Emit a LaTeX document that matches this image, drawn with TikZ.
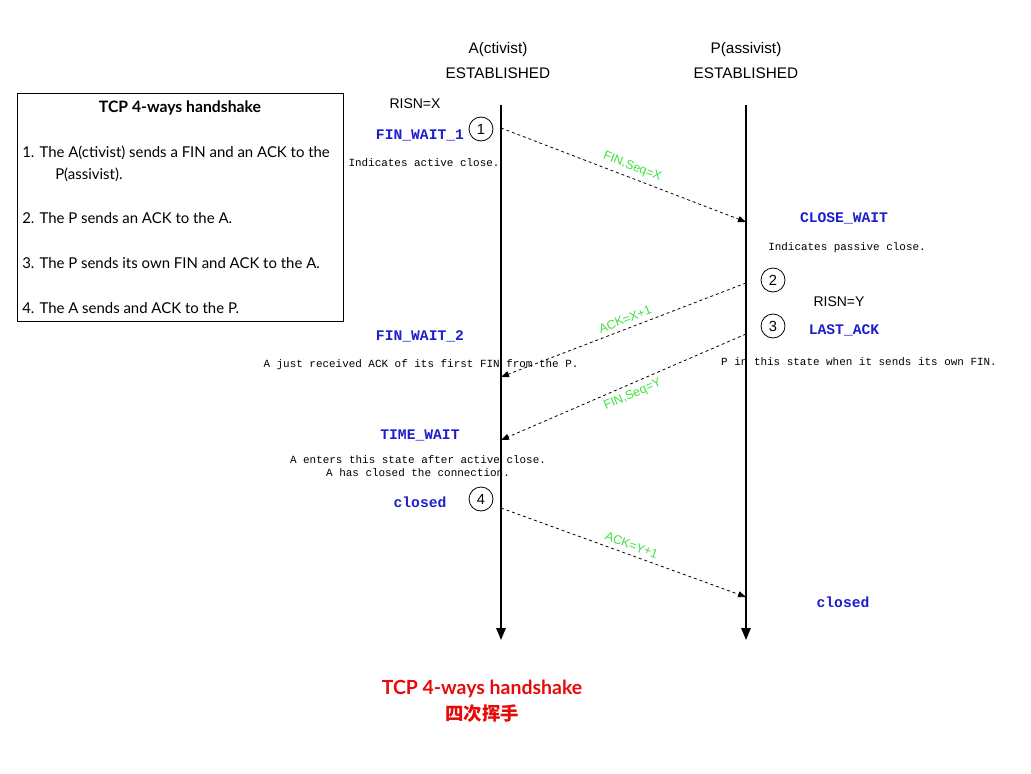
\documentclass[tikz,border=0pt]{standalone}
\usepackage{fontspec}
\setmainfont{Lato}
\newfontfamily\hel{Liberation Sans}
\newfontfamily\mono{Liberation Mono}
\newfontfamily\cjk{Noto Sans CJK SC}
\usetikzlibrary{arrows.meta}
\definecolor{stblue}{RGB}{30,30,205}
\definecolor{msggreen}{RGB}{60,225,60}
\definecolor{ttred}{RGB}{230,10,10}
\tikzset{
  hdr/.style={font=\hel\fontsize{11.5}{13}\selectfont, inner sep=0pt},
  risn/.style={font=\hel\fontsize{10.5}{12}\selectfont, inner sep=0pt},
  state/.style={font=\mono\bfseries\fontsize{11}{12}\selectfont, text=stblue, inner sep=0pt},
  note/.style={font=\mono\fontsize{8.2}{9.6}\selectfont, inner sep=0pt, align=center},
  stepnum/.style={circle, draw, line width=0.6pt, minimum size=18pt, inner sep=0pt, font=\hel\fontsize{11}{12}\selectfont},
  lifeline/.style={line width=1.5pt, -{Triangle[length=9pt,width=7pt]}},
  msg/.style={dash pattern=on 2.2pt off 2.2pt, line width=0.6pt, -{Triangle[length=6pt,width=4.5pt]}},
  msglabel/.style={font=\hel\fontsize{9.3}{10}\selectfont, text=msggreen, sloped, inner sep=3.5pt},
  boxtext/.style={font=\fontsize{11.2}{13}\selectfont, inner sep=0pt, anchor=west},
}
\begin{document}
\begin{tikzpicture}[x=0.75pt,y=-0.75pt]
\useasboundingbox (0,0) rectangle (1031,774);
% headers
\node[hdr] (hA1) at (498,50) {A(ctivist)};
\node[hdr] (hA2) at (498,73) {ESTABLISHED};
\node[hdr] (hP1) at (746,50) {P(assivist)};
\node[hdr] (hP2) at (746,73) {ESTABLISHED};
% lifelines
\coordinate (Atop) at (501,105);
\coordinate (Abot) at (501,640);
\coordinate (Ptop) at (746,105);
\coordinate (Pbot) at (746,640);
\draw[lifeline] (Atop) -- (Abot);
\draw[lifeline] (Ptop) -- (Pbot);
% summary box
\draw[line width=0.7pt] (17,93) rectangle (343,321);
\node[font=\bfseries\fontsize{11.8}{13}\selectfont, inner sep=0pt] (btitle) at (180,108) {TCP 4-ways handshake};
\node[boxtext] (b1) at (22,153) {1. The A(ctivist) sends a FIN and an ACK to the};
\node[boxtext] (b1b) at (55,175) {P(assivist).};
\node[boxtext] (b2) at (22,218) {2. The P sends an ACK to the A.};
\node[boxtext] (b3) at (22,263) {3. The P sends its own FIN and ACK to the A.};
\node[boxtext] (b4) at (22,308) {4. The A sends and ACK to the P.};
% A side labels
\node[risn] (risnx) at (415,104) {RISN=X};
\node[state] (fw1) at (420,135) {FIN\_WAIT\_1};
\node[stepnum] (c1) at (481,129) {1};
\node[note] (n1) at (424,163) {Indicates active close.};
\node[state] (fw2) at (420,336) {FIN\_WAIT\_2};
\node[note] (n2) at (421,365) {A just received ACK of its first FIN from the P.};
\node[state] (tw) at (420,435) {TIME\_WAIT};
\node[note] (n3) at (418,466.5) {A enters this state after active close.\\A has closed the connection.};
\node[state] (clA) at (420,502) {closed};
\node[stepnum] (c4) at (481,499) {4};
% P side labels
\node[state] (cw) at (844,218) {CLOSE\_WAIT};
\node[note] (n4) at (847,248) {Indicates passive close.};
\node[stepnum] (c2) at (773,280) {2};
\node[risn] (risny) at (839,302) {RISN=Y};
\node[stepnum] (c3) at (773,326) {3};
\node[state] (la) at (844,330) {LAST\_ACK};
\node[note] (n5) at (859,362) {P in this state when it sends its own FIN.};
\node[state] (clP) at (843,602) {closed};
% messages
\coordinate (m1s) at (501,128);
\coordinate (m1e) at (746,222);
\coordinate (m2s) at (746,283);
\coordinate (m2e) at (501,377);
\coordinate (m3s) at (746,334);
\coordinate (m3e) at (501,440);
\coordinate (m4s) at (501,508);
\coordinate (m4e) at (746,597);
\draw[msg] (m1s) -- node[msglabel, above, pos=0.52] (l1) {FIN,Seq=X} (m1e);
\draw[msg] (m2s) -- node[msglabel, above, pos=0.48] (l2) {ACK=X+1} (m2e);
\draw[msg] (m3s) -- node[msglabel, below, pos=0.48] (l3) {FIN,Seq=Y} (m3e);
\draw[msg] (m4s) -- node[msglabel, above, pos=0.52] (l4) {ACK=Y+1} (m4e);
% bottom title
\node[font=\bfseries\fontsize{14.6}{16}\selectfont, text=ttred, inner sep=0pt] (t1) at (482,689) {TCP 4-ways handshake};
\node[font=\cjk\bfseries\fontsize{13.8}{15}\selectfont, text=ttred, inner sep=0pt] (t2) at (482,714) {四次挥手};
\end{tikzpicture}
\end{document}
